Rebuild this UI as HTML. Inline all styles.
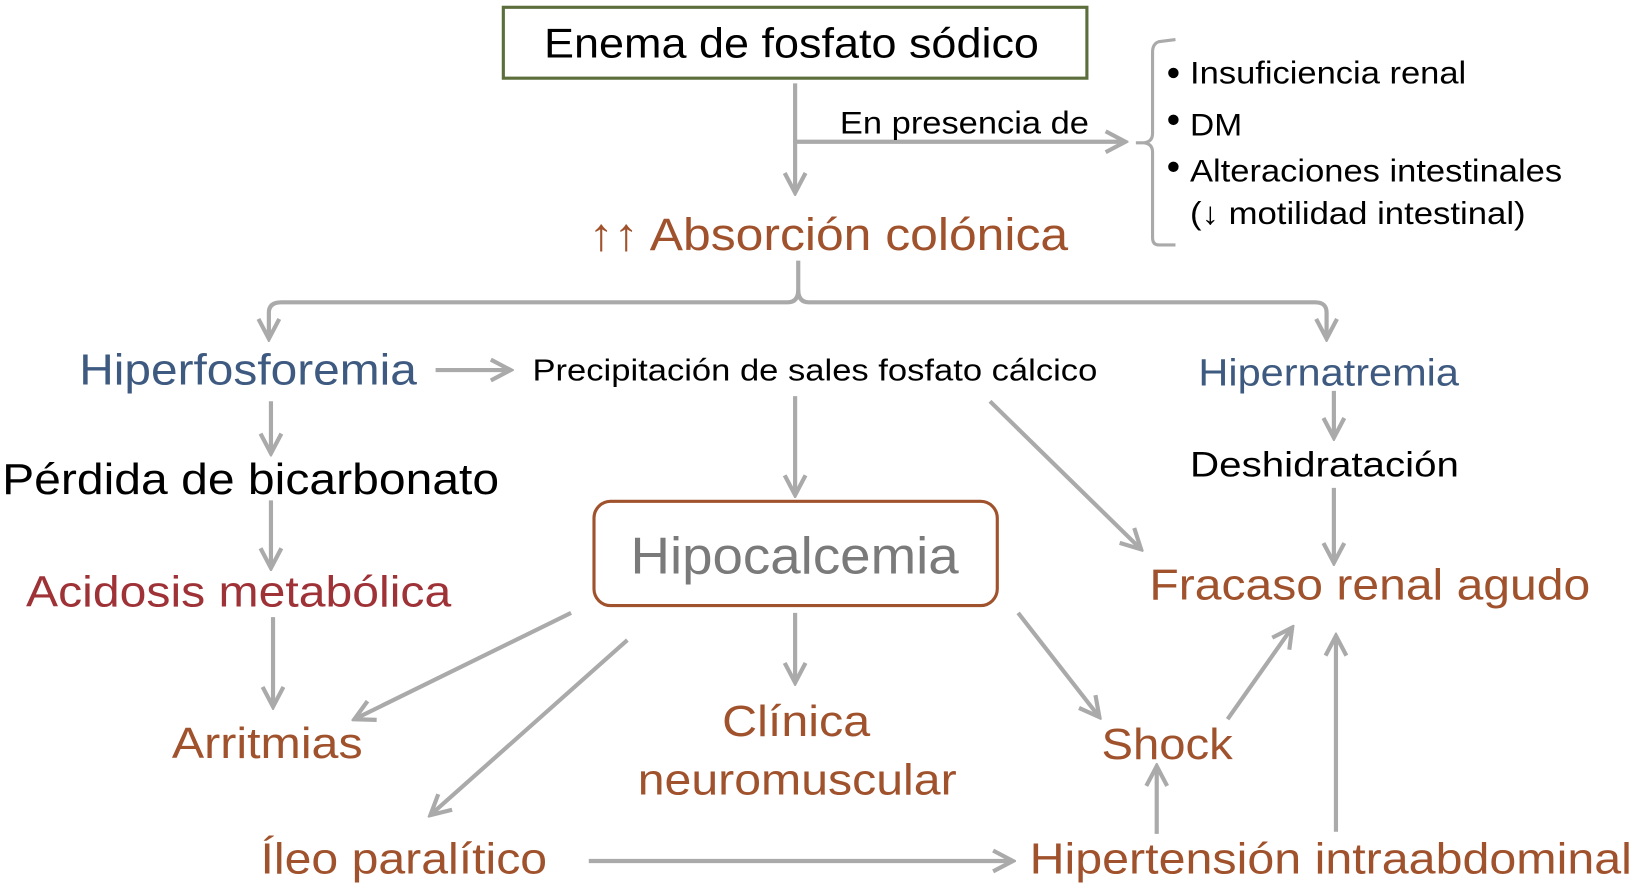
<!DOCTYPE html>
<html><head><meta charset="utf-8"><style>
html,body{margin:0;padding:0;background:#fff;}
svg{display:block;}
text{font-family:"Liberation Sans",Arial,sans-serif;}
</style></head><body>
<svg width="1634" height="886" viewBox="0 0 1568 850" preserveAspectRatio="none" xmlns="http://www.w3.org/2000/svg">
<defs>
<marker id="b" viewBox="0 0 24 24" refX="21" refY="12" markerWidth="24" markerHeight="24" markerUnits="userSpaceOnUse" orient="auto">
<path d="M2,2 L21,12 L2,22" fill="none" stroke="#aaa" stroke-width="4"/>
</marker>
</defs>
<g stroke="#aaa" stroke-width="4" fill="none">
<line x1="763" y1="80" x2="763" y2="185" marker-end="url(#b)"/>
<line x1="763" y1="136" x2="1080" y2="136" marker-end="url(#b)"/>
<path d="M1128,38 L1112,40 Q1106,42 1106,50 L1106,128 Q1106,136 1098,137 L1090,137 M1098,137 Q1106,138 1106,146 L1106,228 Q1106,235 1112,235 L1128,235" stroke-width="3"/>
<path d="M766,250 L766,278 Q766,290 756,290 L270,290 Q258,290 258,300 L258,325" marker-end="url(#b)"/>
<path d="M766,278 Q766,290 776,290 L1262,290 Q1273,290 1273,300 L1273,325" marker-end="url(#b)"/>
<line x1="418" y1="355" x2="490" y2="355" marker-end="url(#b)"/>
<line x1="260" y1="385" x2="260" y2="435" marker-end="url(#b)"/>
<line x1="260" y1="480" x2="260" y2="545" marker-end="url(#b)"/>
<line x1="262" y1="592" x2="262" y2="678" marker-end="url(#b)"/>
<line x1="763" y1="380" x2="763" y2="475" marker-end="url(#b)"/>
<line x1="950" y1="385" x2="1095" y2="527" marker-end="url(#b)"/>
<line x1="1280" y1="375" x2="1280" y2="420" marker-end="url(#b)"/>
<line x1="1280" y1="468" x2="1280" y2="540" marker-end="url(#b)"/>
<line x1="548" y1="588" x2="340" y2="690" marker-end="url(#b)"/>
<line x1="602" y1="614" x2="413" y2="782" marker-end="url(#b)"/>
<line x1="763" y1="588" x2="763" y2="655" marker-end="url(#b)"/>
<line x1="977" y1="588" x2="1055" y2="688" marker-end="url(#b)"/>
<line x1="1178" y1="690" x2="1240" y2="602" marker-end="url(#b)"/>
<line x1="565" y1="826" x2="972" y2="826" marker-end="url(#b)"/>
<line x1="1110" y1="800" x2="1110" y2="735" marker-end="url(#b)"/>
<line x1="1282" y1="798" x2="1282" y2="610" marker-end="url(#b)"/>
</g>
<rect x="483" y="7" width="560" height="68" fill="#fff" stroke="#5b6e3b" stroke-width="3"/>
<rect x="570" y="481" width="387" height="100" rx="16" fill="#fff" stroke="#a0522d" stroke-width="3"/>
<g font-size="40">
<text x="522" y="55" textLength="475" lengthAdjust="spacingAndGlyphs" fill="#000">Enema de fosfato sódico</text>
<text x="806" y="128" font-size="30" textLength="239" lengthAdjust="spacingAndGlyphs" fill="#000">En presencia de</text>
<g font-size="30" fill="#000">
<circle cx="1126" cy="70" r="5"/><circle cx="1126" cy="115" r="5"/><circle cx="1126" cy="160" r="5"/>
<text x="1142" y="80" textLength="265" lengthAdjust="spacingAndGlyphs">Insuficiencia renal</text>
<text x="1142" y="130" textLength="50" lengthAdjust="spacingAndGlyphs">DM</text>
<text x="1142" y="174" textLength="357" lengthAdjust="spacingAndGlyphs">Alteraciones intestinales</text>
<text x="1142" y="215" textLength="322" lengthAdjust="spacingAndGlyphs">(↓ motilidad intestinal)</text>
</g>
<text x="565" y="240" font-size="44" textLength="460" lengthAdjust="spacingAndGlyphs" fill="#a0522d">↑↑ Absorción colónica</text>
<text x="76" y="369" font-size="42" textLength="324" lengthAdjust="spacingAndGlyphs" fill="#3e5a80">Hiperfosforemia</text>
<text x="511" y="365" font-size="29" textLength="542" lengthAdjust="spacingAndGlyphs" fill="#000">Precipitación de sales fosfato cálcico</text>
<text x="1150" y="370" font-size="36" textLength="250" lengthAdjust="spacingAndGlyphs" fill="#3e5a80">Hipernatremia</text>
<text x="2" y="474" font-size="42" textLength="477" lengthAdjust="spacingAndGlyphs" fill="#000">Pérdida de bicarbonato</text>
<text x="1142" y="457" font-size="34" textLength="258" lengthAdjust="spacingAndGlyphs" fill="#000">Deshidratación</text>
<text x="605" y="550" font-size="50" textLength="315" lengthAdjust="spacingAndGlyphs" fill="#7a7a7a">Hipocalcemia</text>
<text x="25" y="582" font-size="42" textLength="408" lengthAdjust="spacingAndGlyphs" fill="#9e3237">Acidosis metabólica</text>
<text x="1103" y="575" font-size="42" textLength="423" lengthAdjust="spacingAndGlyphs" fill="#a0522d">Fracaso renal agudo</text>
<text x="165" y="727" font-size="42" textLength="183" lengthAdjust="spacingAndGlyphs" fill="#a0522d">Arritmias</text>
<text x="693" y="706" font-size="42" textLength="142" lengthAdjust="spacingAndGlyphs" fill="#a0522d">Clínica</text>
<text x="612" y="762" font-size="42" textLength="306" lengthAdjust="spacingAndGlyphs" fill="#a0522d">neuromuscular</text>
<text x="1057" y="728" font-size="42" textLength="126" lengthAdjust="spacingAndGlyphs" fill="#a0522d">Shock</text>
<text x="250" y="838" font-size="42" textLength="275" lengthAdjust="spacingAndGlyphs" fill="#a0522d">Íleo paralítico</text>
<text x="988" y="838" font-size="42" textLength="578" lengthAdjust="spacingAndGlyphs" fill="#a0522d">Hipertensión intraabdominal</text>
</g>
</svg>
</body></html>
